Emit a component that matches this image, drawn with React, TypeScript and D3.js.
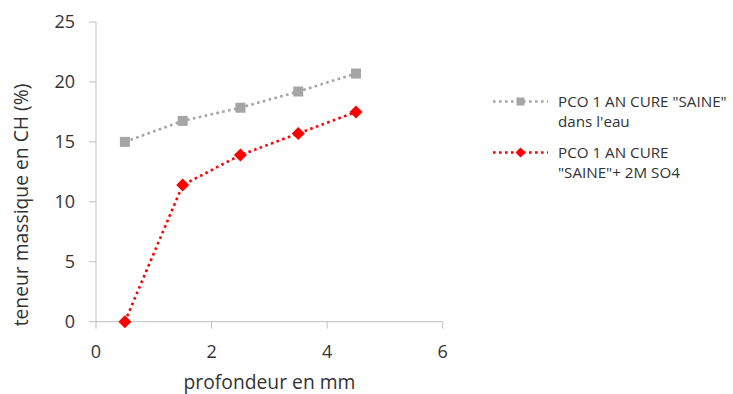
import React from "react";
import * as d3 from "d3";

const depths = [0.5, 1.5, 2.5, 3.5, 4.5];
const seriesWater = [15.0, 16.75, 17.85, 19.2, 20.7];
const seriesSO4 = [0.0, 11.4, 13.9, 15.7, 17.5];
const seriesNames = ['PCO 1 AN CURE "SAINE" dans l\'eau', 'PCO 1 AN CURE "SAINE"+ 2M SO4'];
const legendLines = [['PCO 1 AN CURE "SAINE"', "dans l'eau"], ["PCO 1 AN CURE", '"SAINE"+ 2M SO4']];
const xTicks = [0, 2, 4, 6];
const yTicks = [0, 5, 10, 15, 20, 25];
const xTitle = "profondeur en mm";
const yTitle = "teneur massique en CH (%)";

const W = 733, H = 394;
const FONT = "'Open Sans', 'Liberation Sans', sans-serif";
const AXIS = "#bfbfbf";
const TEXT = "#333333";
const GRAY = "#a5a5a5";
const RED = "#ff0000";

export default function App() {
  const x = d3.scaleLinear().domain([0, 6]).range([96, 442.7]);
  const y = d3.scaleLinear().domain([0, 25]).range([321.7, 22]);
  const line = d3.line<[number, number]>().x(d => x(d[0])).y(d => y(d[1]));
  const dWater = line(depths.map((d, i) => [d, seriesWater[i]] as [number, number])) || "";
  const dSO4 = line(depths.map((d, i) => [d, seriesSO4[i]] as [number, number])) || "";
  const dash = { strokeWidth: 2.6, strokeDasharray: "2.6 3.4", fill: "none" };
  const sq = 5;
  const dm = 6.5;
  const diamond = (cx: number, cy: number, r: number) => `M${cx},${cy - r}L${cx + r},${cy}L${cx},${cy + r}L${cx - r},${cy}Z`;

  return (
    <svg width={W} height={H} style={{ position: "absolute", left: 0, top: 0, background: "#fff" }} fontFamily={FONT}>
      <rect width={W} height={H} fill="#fff" />
      {/* axes */}
      <line x1={x(0)} x2={x(0)} y1={y(25)} y2={y(0)} stroke={AXIS} strokeWidth={1} />
      <line x1={x(0)} x2={x(6)} y1={y(0)} y2={y(0)} stroke={AXIS} strokeWidth={1} />
      {yTicks.map(t => (
        <g key={"y" + t}>
          <line x1={x(0) - 7} x2={x(0)} y1={y(t)} y2={y(t)} stroke={AXIS} />
          <text x={75} y={y(t)} dy="0.36em" textAnchor="end" fontSize={18} fill={TEXT}>{t}</text>
        </g>
      ))}
      {xTicks.map(t => (
        <g key={"x" + t}>
          <line x1={x(t)} x2={x(t)} y1={y(0)} y2={y(0) + 7} stroke={AXIS} />
          <text x={x(t)} y={358} textAnchor="middle" fontSize={18} fill={TEXT}>{t}</text>
        </g>
      ))}
      <text x={269.5} y={388.5} textAnchor="middle" fontSize={19.3} fill={TEXT}>{xTitle}</text>
      <text transform={`translate(28,205) rotate(-90)`} textAnchor="middle" fontSize={19.3} fill={TEXT}>{yTitle}</text>

      {/* series */}
      <path d={dWater} stroke={GRAY} {...dash} />
      {depths.map((d, i) => (
        <rect key={"w" + i} x={x(d) - sq} y={y(seriesWater[i]) - sq} width={sq * 2} height={sq * 2} fill={GRAY} />
      ))}
      <path d={dSO4} stroke={RED} {...dash} />
      {depths.map((d, i) => (
        <path key={"s" + i} d={diamond(x(d), y(seriesSO4[i]), dm)} fill={RED} />
      ))}

      {/* legend */}
      <g>
        <title>{seriesNames[0]}</title>
        <line x1={493} x2={548} y1={101.5} y2={101.5} stroke={GRAY} {...dash} />
        <rect x={520.5 - 4} y={101.5 - 4} width={8} height={8} fill={GRAY} />
        <text x={558} y={106.5} fontSize={15.2} fill={TEXT}>{legendLines[0][0]}</text>
        <text x={558} y={126.5} fontSize={15.2} fill={TEXT}>{legendLines[0][1]}</text>
      </g>
      <g>
        <title>{seriesNames[1]}</title>
        <line x1={493} x2={548} y1={152.5} y2={152.5} stroke={RED} {...dash} />
        <path d={diamond(520.5, 152.5, 5)} fill={RED} />
        <text x={558} y={157.5} fontSize={15.2} fill={TEXT}>{legendLines[1][0]}</text>
        <text x={558} y={177.5} fontSize={15.2} fill={TEXT}>{legendLines[1][1]}</text>
      </g>
    </svg>
  );
}
